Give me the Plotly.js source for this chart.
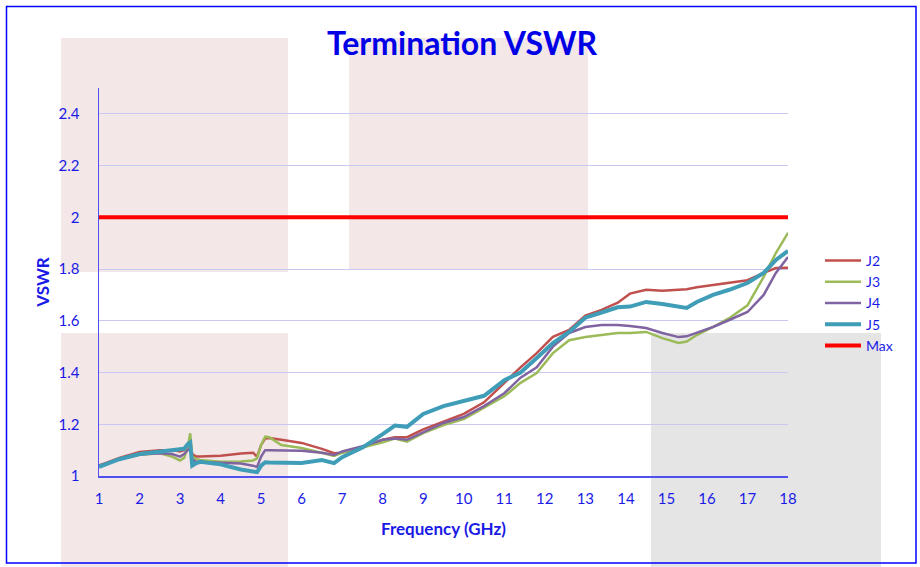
<!DOCTYPE html>
<html>
<head>
<meta charset="utf-8">
<script src="https://cdn.plot.ly/plotly-3.0.1.min.js"></script>
<style>html,body{margin:0;padding:0;background:#fff;}#chart{width:920px;height:567px;}</style>
</head>
<body>
<div id="chart"></div>
<script>
const freq = [1,1.5,2,2.5,2.8,3.0,3.1,3.2,3.25,3.3,3.4,3.5,4,4.5,4.8,4.9,5.0,5.1,5.2,5.5,6,6.5,6.8,7,7.5,8,8.3,8.6,9,9.5,10,10.5,11,11.4,11.8,12.2,12.6,13,13.4,13.8,14.1,14.5,14.9,15.3,15.5,15.75,16.15,16.55,17,17.4,17.7,18];
const j2 = [1.04,1.07,1.093,1.10,1.10,1.095,1.10,1.115,1.125,1.085,1.075,1.075,1.078,1.087,1.09,1.075,1.12,1.145,1.147,1.14,1.128,1.105,1.088,1.09,1.11,1.14,1.15,1.15,1.18,1.21,1.24,1.285,1.36,1.42,1.475,1.538,1.565,1.62,1.642,1.67,1.705,1.72,1.716,1.72,1.722,1.73,1.738,1.746,1.757,1.785,1.804,1.805];
const j3 = [1.04,1.065,1.082,1.088,1.075,1.06,1.07,1.12,1.165,1.075,1.065,1.062,1.055,1.056,1.06,1.068,1.12,1.152,1.15,1.12,1.108,1.09,1.078,1.09,1.11,1.13,1.145,1.133,1.166,1.197,1.22,1.263,1.308,1.36,1.398,1.475,1.525,1.537,1.545,1.553,1.553,1.557,1.533,1.514,1.52,1.545,1.576,1.61,1.66,1.77,1.862,1.94];
const j4 = [1.04,1.065,1.083,1.088,1.085,1.075,1.085,1.10,1.11,1.065,1.055,1.054,1.05,1.048,1.04,1.035,1.075,1.10,1.10,1.10,1.098,1.09,1.081,1.095,1.115,1.14,1.145,1.14,1.17,1.205,1.228,1.27,1.32,1.38,1.42,1.50,1.553,1.576,1.584,1.584,1.58,1.572,1.553,1.537,1.54,1.553,1.576,1.603,1.634,1.70,1.785,1.847];
const j5 = [1.035,1.065,1.085,1.093,1.097,1.10,1.105,1.125,1.13,1.04,1.05,1.055,1.045,1.025,1.015,1.015,1.04,1.053,1.052,1.05,1.05,1.062,1.05,1.073,1.11,1.162,1.195,1.19,1.24,1.27,1.29,1.31,1.37,1.40,1.456,1.514,1.557,1.612,1.632,1.652,1.655,1.673,1.665,1.655,1.65,1.673,1.70,1.72,1.746,1.785,1.835,1.87];
const maxFreq = [1, 18];
const maxVal = [2, 2];
const seriesNames = ["J2","J3","J4","J5","Max"];
const xTicks = [1,2,3,4,5,6,7,8,9,10,11,12,13,14,15,16,17,18];
const yTicks = [1,1.2,1.4,1.6,1.8,2,2.2,2.4];
const yTickLabels = ["1","1.2","1.4","1.6","1.8","2","2.2","2.4"];

const L = 99, R = 788, T = 88, B = 476, W = 920, H = 567;
const px = x => (x - L) / (R - L);
const py = y => (B - y) / (B - T);
function rect(x0,y0,x1,y1,color){
  return {type:'rect', xref:'paper', yref:'paper', x0:px(x0), x1:px(x1), y0:py(y1), y1:py(y0),
    fillcolor:color, line:{width:0}, layer:'below'};
}
const shapes = [
  rect(61,38,288,272,'#f3e7e7'),
  rect(61,333,288,567,'#f3e7e7'),
  rect(349,38,588,270,'#f3e7e7'),
  rect(651,333,881,567,'#e5e5e5'),
  {type:'rect', xref:'paper', yref:'paper', x0:px(6.5), x1:px(916), y0:py(563), y1:py(6.5),
    fillcolor:'rgba(0,0,0,0)', line:{color:'#0000ff', width:1.5}, layer:'above'}
];

const mk = (x,y,name,color,width) => ({x:x, y:y, name:name, type:'scatter', mode:'lines',
  line:{color:color, width:width}, hoverinfo:'skip'});
const data = [
  mk(freq, j2, seriesNames[0], '#c0504d', 2.5),
  mk(freq, j3, seriesNames[1], '#9bbb59', 2.5),
  mk(freq, j4, seriesNames[2], '#8064a2', 2.5),
  mk(freq, j5, seriesNames[3], '#3f9db8', 4),
  mk(maxFreq, maxVal, seriesNames[4], '#ff0000', 4)
];

const blue = '#1a1ae6';
const layout = {
  width: W, height: H,
  margin: {l:L, r:W-R, t:T, b:H-B, pad:0},
  paper_bgcolor:'rgba(0,0,0,0)', plot_bgcolor:'rgba(0,0,0,0)',
  font:{family:'Lato, "Open Sans", sans-serif', color:blue, size:15},
  title:{text:'Termination VSWR', x:462/W, xanchor:'center', y:1-44/H, yanchor:'middle',
    font:{family:'Lato, sans-serif', size:32, color:'#0000e6', weight:'bold'}},
  xaxis:{range:[1,18], tickvals:xTicks, ticktext:xTicks.map(String), showgrid:false, zeroline:false,
    showline:true, linecolor:'#5050f0', linewidth:2, ticks:'outside', ticklen:8, tickcolor:'rgba(0,0,0,0)',
    tickfont:{size:15, color:blue},
    title:{text:'<b>Frequency (GHz)</b>', font:{size:17, color:blue}, standoff:17}, fixedrange:true},
  yaxis:{range:[1,2.5], tickvals:yTicks, ticktext:yTickLabels, showgrid:true, gridcolor:'#c8c8f2', gridwidth:1,
    zeroline:false, showline:true, linecolor:'#5050f0', linewidth:1.5, ticks:'outside', ticklen:15, tickcolor:'rgba(0,0,0,0)',
    tickfont:{size:15, color:blue},
    title:{text:'<b>VSWR</b>', font:{size:17, color:blue}, standoff:4}, fixedrange:true},
  showlegend:true,
  legend:{x:px(820), xanchor:'left', y:py(245), yanchor:'top', bgcolor:'rgba(0,0,0,0)',
    font:{size:14, color:blue}, tracegroupgap:0, itemwidth:36},
  shapes: shapes
};
Plotly.newPlot('chart', data, layout, {staticPlot:true, displayModeBar:false});
</script>
</body>
</html>
